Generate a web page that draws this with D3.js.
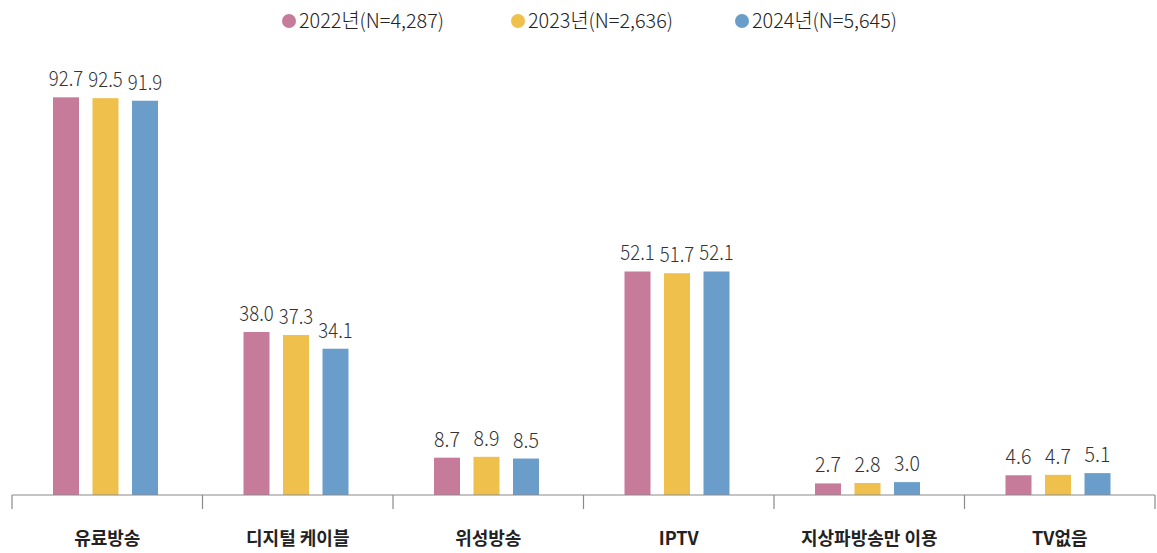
<!DOCTYPE html>
<html><head><meta charset="utf-8">
<script src="https://cdn.jsdelivr.net/npm/d3@7"></script>
<style>body{margin:0;background:#fff}svg{display:block}</style>
</head><body>
<svg id="c" width="1157" height="553"></svg>
<script>
const categories = ["유료방송","디지털 케이블","위성방송","IPTV","지상파방송만 이용","TV없음"];
const seriesNames = ["2022년(N=4,287)","2023년(N=2,636)","2024년(N=5,645)"];
const v2022 = [92.7,38.0,8.7,52.1,2.7,4.6];
const v2023 = [92.5,37.3,8.9,51.7,2.8,4.7];
const v2024 = [91.9,34.1,8.5,52.1,3.0,5.1];
const colors = ["#C67B9B","#EFC04B","#6A9DCA"];
const seriesVals = [v2022,v2023,v2024];

const svg = d3.select("#c");
const font = "'Noto Sans CJK KR','Noto Sans',sans-serif";
const x0 = d3.scaleBand().domain(categories).range([12,1155]).paddingInner(0).paddingOuter(0);
const y = d3.scaleLinear().domain([0,100]).range([495,66]);

const bw = 26;
const groupOffset = 41;

const g = svg.append("g");
categories.forEach((c,i)=>{
  const gx = x0(c)+groupOffset;
  seriesVals.forEach((vals,s)=>{
    const cx = gx + s*39.5 + bw/2;
    const label = vals[i].toFixed(1);
    g.append("rect").attr("x",cx-bw/2).attr("y",y(vals[i])).attr("width",bw)
      .attr("height",y(0)-y(vals[i])).attr("fill",colors[s]);
    g.append("text").attr("x",cx).attr("y",y(vals[i])-11).attr("text-anchor","middle")
      .attr("font-family",font).attr("font-size",21).attr("font-weight",300).attr("fill","#333")
      .attr("textLength",label.length*8.6).attr("lengthAdjust","spacingAndGlyphs")
      .text(label);
  });
});

// axis
const ax = svg.append("g").attr("transform","translate(0,495)");
ax.append("line").attr("x1",12).attr("x2",1155).attr("stroke","#8a8a8a").attr("stroke-width",1.2);
const bounds = categories.map(c=>x0(c)).concat([x0.range()[1]]);
ax.selectAll("line.t").data(bounds).enter().append("line").attr("class","t")
  .attr("x1",d=>d).attr("x2",d=>d).attr("y1",0).attr("y2",14).attr("stroke","#8a8a8a").attr("stroke-width",1.2);
ax.selectAll("text").data(categories).enter().append("text")
  .attr("x",d=>x0(d)+x0.bandwidth()/2).attr("y",50).attr("text-anchor","middle")
  .attr("font-family",font).attr("font-size",18).attr("font-weight",700).attr("fill","#222")
  .text(d=>d);

// legend
const legX = [289,518,742];
seriesNames.forEach((n,s)=>{
  svg.append("circle").attr("cx",legX[s]).attr("cy",21).attr("r",7).attr("fill",colors[s]);
  svg.append("text").attr("x",legX[s]+10).attr("y",28).attr("font-family",font)
    .attr("font-size",20).attr("font-weight",300).attr("fill","#222")
    .attr("textLength",145).attr("lengthAdjust","spacingAndGlyphs").text(n);
});
</script>
</body></html>
